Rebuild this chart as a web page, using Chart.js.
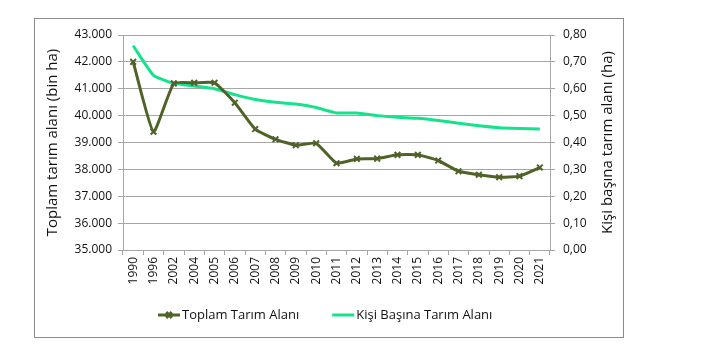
<!DOCTYPE html>
<html>
<head>
<meta charset="utf-8">
<script src="https://cdn.jsdelivr.net/npm/chart.js@4.4.0/dist/chart.umd.min.js"></script>
<style>
  body { margin: 0; background: #fff; }
  #wrap { position: relative; width: 707px; height: 353px; }
  #frame { position: absolute; left: 34px; top: 18px; width: 588px; height: 318px; border: 1px solid #8c8c8c; }
  #myChart { position: absolute; left: 0; top: 0; }
</style>
</head>
<body>
<div id="wrap">
  <div id="frame"></div>
  <canvas id="myChart" width="707" height="353"></canvas>
</div>
<script>
const years = ['1990', '1996', '2002', '2004', '2005', '2006', '2007', '2008', '2009', '2010', '2011',
  '2012', '2013', '2014', '2015', '2016', '2017', '2018', '2019', '2020', '2021']
// bin ha
const toplamAlan = [42000, 39400, 41200, 41220, 41220, 40480, 39500, 39120, 38900, 38970, 38230,
  38390, 38400, 38540, 38540, 38330, 37930, 37800, 37710, 37750, 38070]
// ha / kişi
const kisiBasina = [0.76, 0.65, 0.62, 0.61, 0.60, 0.578, 0.56, 0.55, 0.543, 0.53, 0.51,
  0.51, 0.50, 0.494, 0.49, 0.482, 0.472, 0.462, 0.455, 0.452, 0.45]
const leftTicks = { min: 35000, max: 43000, step: 1000 }
const rightTicks = { min: 0, max: 0.8, step: 0.1 }
const leftTitle = 'Toplam tarım alanı (bin ha)'
const rightTitle = 'Kişi başına tarım alanı (ha)'

const olive = '#4f6228'
const mint = '#14e38c'
const gridGray = '#a6a6a6'
const fontFam = '"Open Sans", "Noto Sans", sans-serif'

function binlik(v) {
  // 43000 -> 43.000
  return String(Math.round(v)).replace(/\B(?=(\d{3})+(?!\d))/g, '.')
}

// legend drawn by hand so the line sample can carry the x marker
// right axis title also by hand: chart.js turns it the other way
const extrasPlugin = {
  id: 'extras',
  afterDraw(chart) {
    const c = chart.ctx
    const y = 315
    let x = 158
    c.save()
    c.font = '13px ' + fontFam
    c.textBaseline = 'middle'
    chart.data.datasets.forEach(ds => {
      c.strokeStyle = ds.borderColor
      c.lineWidth = 3
      c.beginPath()
      c.moveTo(x, y)
      c.lineTo(x + 22, y)
      c.stroke()
      if (ds.pointRadius > 0) {
        Chart.helpers.drawPoint(c, {
          pointStyle: ds.pointStyle, radius: ds.pointRadius, borderWidth: ds.pointBorderWidth
        }, x + 11, y)
      }
      c.fillStyle = '#111'
      c.fillText(ds.label, x + 24, y)
      x += 24 + c.measureText(ds.label).width + 33
    })
    const s = chart.scales.y1
    c.font = '15px ' + fontFam
    c.textAlign = 'center'
    c.translate(s.right - 12, (s.top + s.bottom) / 2)
    c.rotate(-Math.PI / 2)
    c.fillText(rightTitle, 0, 0)
    c.restore()
  }
}

const ctx = document.getElementById('myChart')
const myChart = new Chart(ctx, {
  type: 'line',
  data: {
    labels: years,
    datasets: [{
      label: 'Toplam Tarım Alanı',
      data: toplamAlan,
      yAxisID: 'y',
      borderColor: olive,
      backgroundColor: olive,
      borderWidth: 3,
      pointStyle: 'crossRot',
      pointRadius: 4,
      pointBorderWidth: 2,
      pointBorderColor: olive,
      tension: 0.15
    }, {
      label: 'Kişi Başına Tarım Alanı',
      data: kisiBasina,
      yAxisID: 'y1',
      borderColor: mint,
      backgroundColor: mint,
      borderWidth: 3,
      pointRadius: 0,
      tension: 0.15
    }]
  },
  options: {
    responsive: false,
    animation: false,
    layout: { padding: { left: 44, right: 87, top: 35, bottom: 58 } },
    plugins: {
      legend: { display: false },
      tooltip: { enabled: false }
    },
    scales: {
      x: {
        offset: true,
        grid: { offset: true, drawOnChartArea: false, color: gridGray, tickLength: 5 },
        border: { color: gridGray },
        ticks: { minRotation: 90, maxRotation: 90, autoSkip: false, color: '#111', font: { family: fontFam, size: 12 }, padding: 2 },
        afterFit(s) { s.height = 45 }
      },
      y: {
        position: 'left',
        min: leftTicks.min,
        max: leftTicks.max,
        ticks: { stepSize: leftTicks.step, color: '#111', font: { family: fontFam, size: 12 }, padding: 6, callback: v => binlik(v) },
        grid: { color: gridGray, tickLength: 5 },
        border: { color: gridGray },
        title: { display: true, text: leftTitle, color: '#111', font: { family: fontFam, size: 15 }, padding: 0 },
        afterFit(s) { s.width = 79 }
      },
      y1: {
        position: 'right',
        min: rightTicks.min,
        max: rightTicks.max,
        ticks: { stepSize: rightTicks.step, color: '#111', font: { family: fontFam, size: 12 }, padding: 8, callback: v => v.toFixed(2).replace('.', ',') },
        grid: { drawOnChartArea: false, color: gridGray, tickLength: 5 },
        border: { color: gridGray },
        afterFit(s) { s.width = 70 }
      }
    }
  },
  plugins: [extrasPlugin]
})
</script>
</body>
</html>
